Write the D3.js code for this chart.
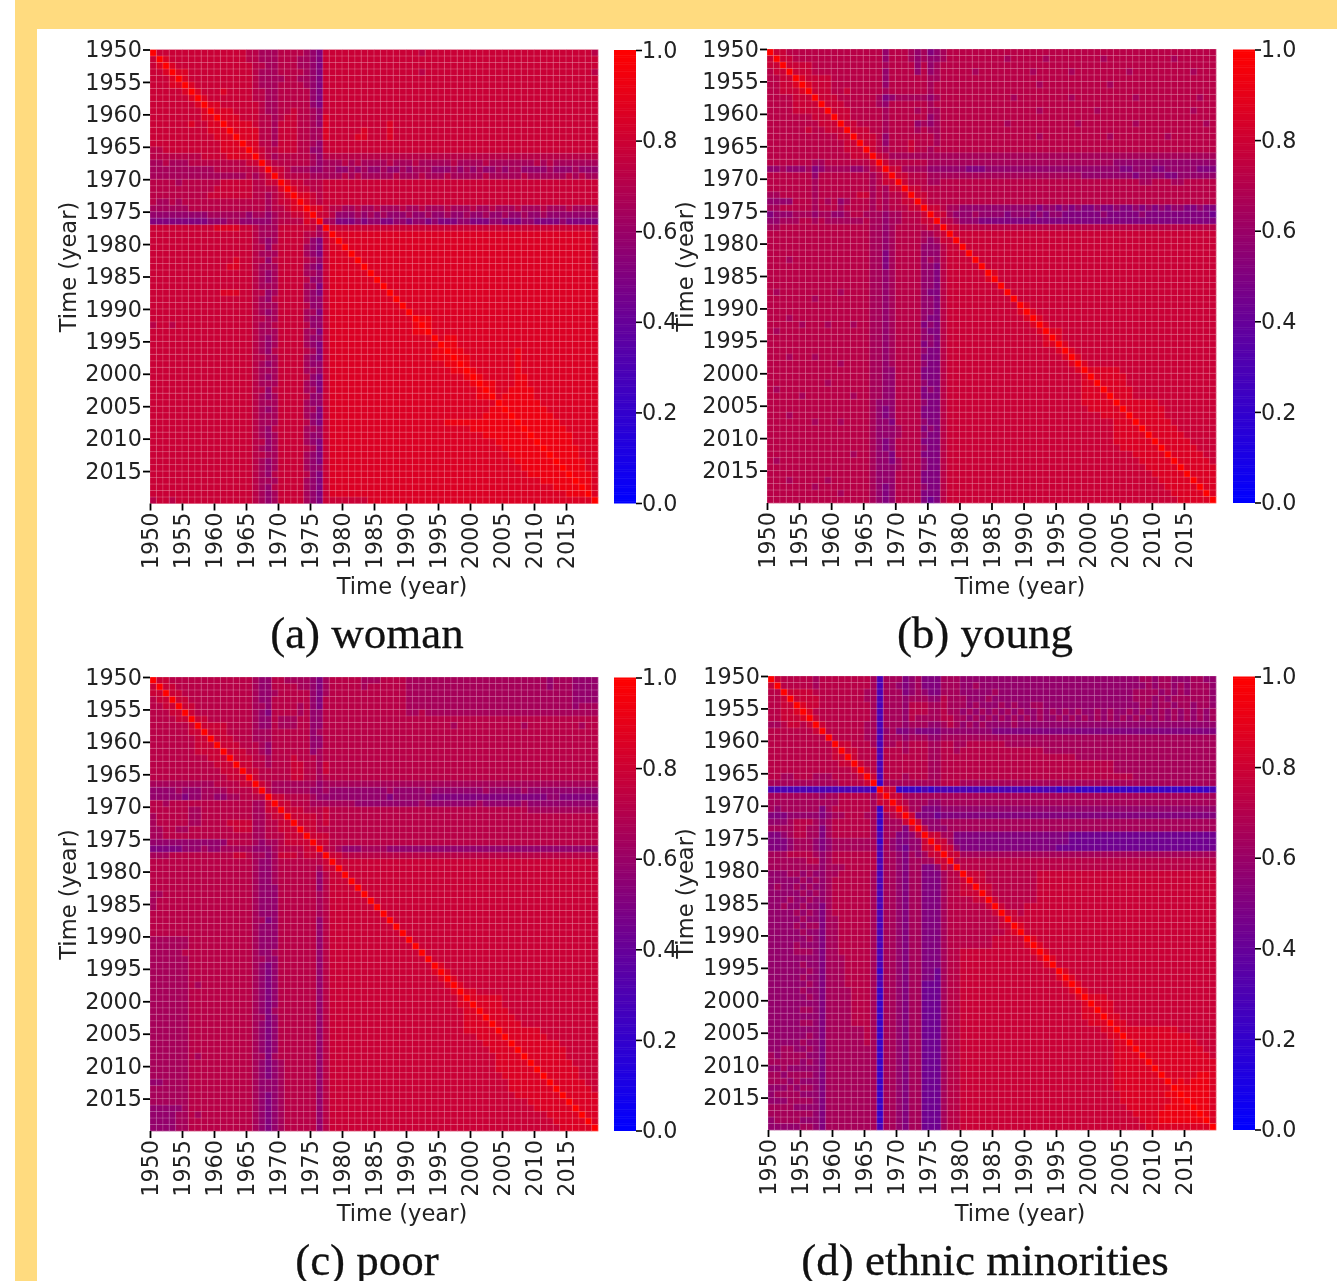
<!DOCTYPE html>
<html><head><meta charset="utf-8">
<script src="https://cdnjs.cloudflare.com/ajax/libs/d3/7.8.5/d3.min.js"></script>
<style>html,body{margin:0;padding:0;background:#fff;overflow:hidden}svg{display:block;filter:blur(.5px)}</style>
</head><body><svg id="c" width="1337" height="1281"></svg>
<script>
// Upper-triangle estimates, one string per row 1950..2018, groups on 5-year columns.
// Each character is a level from levelValues; the matrix is symmetric and its diagonal is diagonalValue.
const levelValues={a:.23,0:.30,1:.37,2:.44,3:.51,4:.58,5:.65,6:.72,7:.79,8:.86,9:.93};
const diagonalValue=1;
const tickYears=[1950,1955,1960,1965,1970,1975,1980,1985,1990,1995,2000,2005,2010,2015];
const barTicks=[0,.2,.4,.6,.8,1];
const captions=["(a) woman","(b) young","(c) poor","(d) ethnic minorities"];
const womanRows=[
"7777 77777 77777 66555 66665 43777 77777 77777 77677 77777 77777 77777 77777 77776",
"877 77777 77777 66555 66655 43777 77777 77777 77777 77777 77777 77777 77777 77777",
"87 77777 77777 76655 66655 43777 77777 77777 77777 77777 77777 77777 77777 77777",
"8 87777 77777 76555 66665 43777 77777 77777 77677 77777 77777 77777 77777 77776",
"87777 77777 76555 56655 43777 77777 77777 77777 77777 77777 77777 77777 77777",
"8777 77777 76555 66665 43777 77777 77777 77777 77777 77777 77777 77777 77777",
"877 78777 76655 66666 43777 77777 77777 77777 77777 77777 77777 77777 77777",
"87 77777 76655 66666 43777 77777 77777 77777 77777 77777 77777 77777 77777",
"8 87777 77655 66666 43777 77777 77777 77777 77777 77777 77777 77777 77777",
"88877 77655 66766 54777 77777 77777 77777 77777 77777 77777 77777 77777",
"8887 77665 67766 54877 77777 77777 77777 77777 77777 77777 77777 77777",
"888 87665 77766 54877 77777 77877 77777 77777 77777 77777 77777 77777",
"88 88665 77766 55877 77787 77877 77777 77777 77777 77777 77777 77777",
"8 88665 77766 55877 77887 77877 77777 77777 77777 77777 77777 77777",
"88665 77766 54777 77777 77777 77777 77777 77777 77777 77777 77777",
"8766 77766 44777 77777 77777 77777 77777 77777 77777 77777 77777",
"765 66666 54666 66666 66666 66666 66666 66666 66666 66666 66666",
"76 66666 54555 65655 55655 56555 55655 55655 55555 65655 55555",
"7 76555 44554 45454 45445 45554 44545 45445 45544 44544 45444",
"76666 55555 65655 55565 55655 56555 55655 55565 55555 65655",
"8776 66777 77777 77777 77777 77777 77777 77777 77777 77777",
"877 66777 77777 77777 77777 77777 77777 77777 77777 77777",
"88 76777 77777 77777 77777 77777 77777 77777 77777 77777",
"8 76777 77777 77777 77777 77777 77777 77777 77777 77777",
"8766 55655 65556 55655 56555 65565 55655 56555 65555",
"764 44545 45444 54454 45445 44544 54454 45444 44444",
"53 33434 43344 34434 33344 33344 33344 33334 33333",
"7 77777 77777 77777 77777 77777 77777 77777 77777",
"8 88888 88888 88888 88888 88888 88888 88888 88887",
"88888 88888 88888 88888 88888 88888 88888 88887",
"8888 88888 88888 88888 88888 88888 88888 88887",
"888 88888 88888 88888 88888 88888 88888 88887",
"88 88888 88888 88888 88888 88888 88888 88887",
"8 88888 88888 88888 88888 88888 88888 88887",
"88888 88888 88888 88888 88888 88888 88888",
"8888 88888 88888 88888 88888 88888 88888",
"888 88888 88888 88888 88888 88888 88888",
"88 88888 88888 88888 88888 88888 88888",
"8 88888 88888 88888 88888 88888 88888",
"88888 88888 88888 88888 88888 88888",
"8888 88888 88888 88888 88888 88888",
"998 88888 88888 88888 88888 88888",
"98 88888 88888 88888 88888 88888",
"8 88888 88888 88888 88888 88888",
"89988 88888 88888 88888 88888",
"9988 88888 88888 88888 88888",
"998 88888 88988 88888 88888",
"99 88888 88988 88888 88888",
"9 88888 88988 88888 88888",
"98888 88988 88888 88888",
"9888 88998 88888 88888",
"998 88998 88888 88888",
"98 89999 88888 88888",
"8 99999 88888 88888",
"99999 98888 88888",
"9999 99888 88888",
"999 99988 88888",
"99 99998 88888",
"9 99999 88888",
"99999 98888",
"9999 98888",
"999 99888",
"99 99888",
"9 99988",
"99988",
"9998",
"998",
"98",
"8"];
const youngRows=[
"7766 66666 66666 66646 66545 34566 66666 66666 66666 66666 66666 66666 66666 66666",
"776 66666 66666 66646 66545 44566 66666 66566 66656 66666 66566 66666 66656 66666",
"77 77666 66666 66656 66646 45666 66666 66666 66666 66666 66666 66666 66666 66666",
"7 77666 66666 66646 66646 45666 66566 66666 65666 66566 66666 65666 66666 65666",
"87777 66666 66646 66666 55666 66666 66666 66666 66666 66666 66666 66666 66666",
"8777 66666 66646 66666 56666 66666 66666 66566 66666 66656 66666 66666 66666",
"777 66766 66656 66666 56666 66666 66666 66666 66666 66666 66666 66666 66666",
"77 76666 66534 55555 45666 66666 66656 66666 66566 66666 66566 66666 66566",
"7 77666 66546 66666 56666 66666 66666 66666 66666 66666 66666 66666 66666",
"77766 66656 66656 55666 66666 66666 66566 66666 65666 66666 66666 65666",
"7766 66656 66666 45666 66666 66666 66666 66666 66666 66666 66666 66666",
"776 66656 66645 45666 66666 66566 66666 66656 66666 66566 66666 66656",
"77 76656 66656 55666 66666 66666 66666 66666 66666 66666 66666 66666",
"7 77646 66666 65666 66666 66666 66566 66666 66656 66666 66566 66666",
"77646 66766 65666 66666 66666 66666 66666 66666 66666 66666 66666",
"7656 66766 56666 66666 66666 66666 66666 66666 66666 66666 66666",
"765 55555 55555 55555 55555 55555 55555 55555 55555 55555 55555",
"76 66666 55555 55555 55555 55555 55555 55554 44444 44444 44444",
"7 75555 44444 43334 44444 44444 44444 44444 33444 33444 44333",
"77666 55555 55555 55555 55555 55554 44444 44344 44334 44444",
"7666 55666 66666 66666 66666 66666 66666 66655 66655 66666",
"776 66666 66666 66666 66666 66666 66666 66666 66666 66666",
"77 66666 66666 66666 66666 66666 66666 66666 66666 66666",
"7 66666 66666 66666 66666 66666 66666 66666 66666 66666",
"7655 44444 44444 44344 34343 34334 33434 34344 33433",
"754 44544 44344 43434 43333 33433 33343 33333 33332",
"65 44433 33333 33333 33333 33333 33333 33333 33333",
"7 66666 66666 66666 66666 66666 66666 66666 66666",
"7 77777 77777 77777 77777 77777 77777 77777 77777",
"77777 77777 77777 77777 77777 77777 77777 77777",
"7777 77777 77777 77777 77777 77777 77777 77777",
"777 77777 77777 77777 77777 77777 77777 77777",
"77 77777 77777 77777 77777 77777 77777 77777",
"7 77777 77777 77777 77777 77777 77777 77777",
"87777 77777 77777 77777 77777 77777 77777",
"7777 77777 77777 77777 77777 77777 77777",
"777 77777 77777 77777 77777 77777 77777",
"77 77777 77777 77777 77777 77777 77777",
"7 77777 77777 77777 77777 77777 77777",
"87777 77777 77777 77777 77777 77777",
"8777 77777 77777 77777 77777 77777",
"877 77777 77777 77777 77777 77777",
"87 77777 77777 77777 77777 77777",
"8 87777 77777 77777 77777 77777",
"87777 77777 77777 77777 77777",
"8777 77777 77777 77777 77777",
"877 77777 77777 77777 77777",
"87 77777 77777 77777 77777",
"8 77777 77777 77777 77777",
"88888 77777 77777 77777",
"8888 87777 77777 77777",
"888 87777 77777 77777",
"88 88777 77777 77777",
"8 88777 77777 77777",
"88888 87777 77777",
"8888 88777 77777",
"888 88777 77777",
"88 88877 77777",
"8 88887 77777",
"88888 77777",
"8888 87777",
"888 88777",
"88 88877",
"8 88887",
"88888",
"8888",
"888",
"88",
"8"];
const poorRows=[
"7766 66666 66666 65446 65555 43566 66655 56666 55555 55555 55555 55555 55455 54444",
"776 66666 66666 65446 66655 43566 66656 66666 55555 55555 55555 55555 55455 54444",
"77 66666 66666 65445 66666 43566 66666 66666 55555 55555 55555 55555 55555 54444",
"7 76666 66666 65446 66666 43666 66666 66666 55555 55555 55555 55555 55555 54444",
"77666 66666 65546 66656 43666 66666 66666 55555 55555 55555 55555 55555 54555",
"7666 66666 65436 66656 44666 66666 66666 55655 55555 55555 55555 55555 55555",
"776 66666 65446 55566 44666 66666 66666 66666 66666 66666 66666 66666 66666",
"77 77666 65446 55566 44666 66666 66666 66666 66566 66666 66656 66666 66566",
"7 77666 65556 66666 45666 66666 66666 66666 66666 66666 66666 66666 66666",
"77766 65556 66666 44666 66666 66666 66666 66666 66666 66666 66666 66666",
"7776 66546 66666 44666 66666 66666 66666 66666 66666 66666 66666 66666",
"777 66546 66666 45666 66666 66666 66666 66666 66666 66666 66666 66666",
"77 76656 66766 65666 66666 66666 66666 66666 66666 66666 66666 66666",
"7 76656 66776 65766 66666 66666 66666 66666 66666 66666 66666 66666",
"77666 66776 65766 66666 66666 66666 66666 66666 66666 66666 66666",
"7666 66776 65666 66666 66666 66666 66666 66666 66666 66666 66666",
"765 55555 54555 55555 55555 55555 55555 55555 55555 55555 55555",
"65 55555 44544 44444 44544 44454 44444 44544 44454 44444 44444",
"7 76666 54444 44444 44344 44443 33333 33333 33333 33443 33333",
"77666 55555 55444 44444 44544 44444 45444 44454 44444 44444",
"7776 66766 66666 66666 66666 66666 66666 66665 55555 55555",
"777 76766 66666 66666 66666 66666 66666 66666 66666 66666",
"77 76766 66666 66666 66666 66666 66666 66666 66666 66666",
"7 76666 66666 66666 66666 66666 66666 66666 66666 66666",
"7766 66666 66666 66666 66666 66666 66666 66666 66666",
"766 66666 66666 66666 66666 66666 66666 66666 66666",
"65 44455 55444 44444 44444 44444 44444 44444 44444",
"7 66666 66666 66666 66666 66666 66666 66666 66666",
"7 77777 77777 77777 77777 77777 77777 77777 77777",
"77777 77777 77777 77777 77777 77777 77777 77777",
"7777 77777 77777 77777 77777 77777 77777 77777",
"777 77777 77777 77777 77777 77777 77777 77777",
"77 77777 77777 77777 77777 77777 77777 77777",
"7 77777 77777 77777 77777 77777 77777 77777",
"77777 77777 77777 77777 77777 77777 77777",
"7777 77777 77777 77777 77777 77777 77777",
"777 77777 77777 77777 77777 77777 77777",
"77 77777 77777 77777 77777 77777 77777",
"7 77777 77777 77777 77777 77777 77777",
"77777 77777 77777 77777 77777 77777",
"7777 77777 77777 77777 77777 77777",
"777 77777 77777 77777 77777 77777",
"77 77777 77777 77777 77777 77777",
"7 77777 77777 77777 77777 77777",
"87777 77777 77777 77777 77777",
"8777 77777 77777 77777 77777",
"877 77777 77777 77777 77777",
"87 77777 77777 77777 77777",
"8 87777 77777 77777 77777",
"88888 77777 77777 77777",
"8888 77777 77777 77777",
"888 87777 77777 77777",
"88 88777 77777 77777",
"8 88877 77777 77777",
"88888 87777 77777",
"8888 88777 77777",
"888 88887 77777",
"88 88888 77777",
"8 88888 77777",
"88888 87777",
"8888 88777",
"888 88777",
"88 88877",
"8 88887",
"88888",
"8888",
"888",
"88",
"8"];
const minoritiesRows=[
"7666 66566 66666 65055 53453 33555 44444 44444 44444 44444 44444 44455 45544 45544",
"666 66566 66666 65055 43453 33555 44544 44444 44444 44444 44444 44445 45545 45554",
"77 77666 66666 55055 53454 33555 44444 54444 44444 44444 44444 44555 54545 45554",
"7 77766 66666 55055 54555 44655 54445 44444 44444 44444 44444 44555 45455 55554",
"87766 66666 65055 54666 55655 54544 45454 45544 44444 44444 44455 45545 54554",
"8666 66666 65055 54666 55655 45454 54545 44545 45454 45454 45454 45454 54545",
"766 66666 65055 54655 55665 54545 45454 54544 54545 45454 54545 45454 54545",
"76 66666 55055 54555 44565 45454 44454 44444 44444 44444 44444 44444 44444",
"6 66666 55045 33433 33444 44444 33333 33333 33333 33333 33333 33333 33333",
"66666 55055 54555 44555 55555 55555 55555 55555 55555 55555 55555 55555",
"7766 65055 65666 55665 56666 66555 55555 55555 55555 55555 55555 55555",
"776 66066 65666 55665 66666 66666 66655 55555 55555 55555 55555 55555",
"76 66066 66666 55666 66666 66666 66666 66655 55555 55555 55555 55555",
"7 66066 66666 55666 66666 66666 66666 66666 66665 55555 55555 55555",
"76066 66666 55666 66666 66666 66666 66666 66665 55555 55555 55555",
"7066 65666 55666 66666 66666 66666 66666 66666 66555 55555 55555",
"a55 55555 55666 55555 55555 55555 55555 55555 55555 55555 55555",
"77 aaaa0 a0000 00000 00000 00000 a00aa aaaaa aaaaa aaaaa aaaa0",
"7 75555 55555 55555 55555 55555 55555 55555 55555 55555 55555",
"76555 44555 55555 55555 55555 55555 55555 55555 55555 55555",
"7553 33444 44444 44444 44444 44444 44444 44444 44444 44444",
"733 32333 33333 33333 33333 33333 33333 33333 33333 33333",
"74 44555 55555 55555 55555 55555 55555 55555 55555 55555",
"6 44455 55555 55555 55555 55555 55555 55555 55555 55555",
"7553 33333 33333 33333 33222 22222 22222 22222 22222",
"753 33333 33333 33333 33222 22222 22222 22222 22222",
"74 33333 33333 33333 22222 22222 22222 22222 22222",
"7 55555 55555 55555 55555 55555 55555 55555 55555",
"6 66666 66666 66666 66666 66666 66666 66666 66666",
"66666 66666 66666 66666 66666 66666 66666 66666",
"7776 66666 66777 77777 77777 77777 77777 77777",
"776 66666 66777 77777 77777 77777 77777 77777",
"77 66666 66777 77777 77777 77777 77777 77777",
"7 66666 66777 77777 77777 77777 77777 77777",
"76666 66777 77777 77777 77777 77777 77777",
"7666 77777 77777 77777 77777 77777 77777",
"776 77777 77777 77777 77777 77777 77777",
"77 77777 77777 77777 77777 77777 77777",
"8 77777 77777 77777 77777 77777 77777",
"77777 77777 77777 77777 77777 77777",
"8777 77777 77777 77777 77777 77777",
"877 77777 77777 77777 77777 77777",
"87 77777 77777 77777 77777 77777",
"8 77777 77777 77777 77777 77777",
"77777 77777 77777 77777 77777",
"8777 77777 77777 77777 77777",
"877 77777 77777 77777 77777",
"87 77777 77777 77777 77777",
"8 77777 77777 77777 77777",
"88877 77777 77777 77777",
"8887 77777 77777 77777",
"887 77777 77777 77777",
"88 77777 77777 77777",
"8 87777 77777 77777",
"88888 88887 77777",
"8888 88888 87777",
"888 88888 88777",
"88 88888 88877",
"8 88888 88887",
"88888 88888",
"8888 88888",
"888 88998",
"89 89998",
"9 99998",
"99998",
"9998",
"998",
"98",
"8"];

// Panel placement
const layout=[
 {rows:womanRows, x0:150,x1:598,y0:49.5,y1:503.5,bar:614,labelX:68, xLabelX:402, xLabelY:594, capX:367, capY:648},
 {rows:youngRows, x0:767,x1:1216,y0:49,y1:503,bar:1233,labelX:685,xLabelX:1020,xLabelY:594, capX:985, capY:648},
 {rows:poorRows, x0:150,x1:598,y0:677,y1:1131,bar:614,labelX:68, xLabelX:402, xLabelY:1221, capX:367, capY:1275},
 {rows:minoritiesRows, x0:768,x1:1216,y0:676,y1:1130,bar:1233,labelX:685,xLabelX:1020,xLabelY:1221, capX:985, capY:1275}
];
const svg=d3.select("#c");
svg.append("rect").attr("x",15).attr("y",0).attr("width",1322).attr("height",29).attr("fill","#FFDB7F");
svg.append("rect").attr("x",15).attr("y",0).attr("width",22).attr("height",1281).attr("fill","#FFDB7F");
const color=d3.scaleLinear().domain([0,1]).range(["#0000ff","#ff0000"]).interpolate(d3.interpolateRgb);
const tickFont='22.3px "DejaVu Sans"', axisFont='22.6px "DejaVu Sans"';
const N=70, startYear=1950;
function decode(rows){
  const m=d3.range(N).map(()=>new Array(N).fill(diagonalValue));
  rows.forEach((s,r)=>{
    let t=s.replace(/ /g,"");const n=N-1-r;
    if(t.length>n)t=t.slice(-n);
    t=t.padStart(n,t[0]);
    for(let i=0;i<n;i++){const v=levelValues[t[i]];m[r][r+1+i]=v;m[r+1+i][r]=v;}
  });
  return m;
}
layout.forEach((p,k)=>{
  const g=svg.append("g");
  const x=d3.scaleLinear().domain([startYear,startYear+N]).range([p.x0,p.x1]);
  const y=d3.scaleLinear().domain([startYear,startYear+N]).range([p.y0,p.y1]);
  const cells=[];decode(p.rows).forEach((row,r)=>row.forEach((v,c)=>cells.push({r,c,v})));
  g.append("g").selectAll("rect").data(cells).join("rect")
    .attr("x",d=>x(startYear+d.c)).attr("y",d=>y(startYear+d.r))
    .attr("width",x(startYear+1)-x(startYear)+.3).attr("height",y(startYear+1)-y(startYear)+.3)
    .attr("fill",d=>color(d.v));
  const gl=g.append("g").attr("stroke","#fff").attr("stroke-width",.5).attr("stroke-opacity",.42);
  gl.selectAll("line.v").data(d3.range(startYear,startYear+N+1)).join("line").attr("class","v")
    .attr("x1",d=>x(d)).attr("x2",d=>x(d)).attr("y1",p.y0).attr("y2",p.y1);
  gl.selectAll("line.h").data(d3.range(startYear,startYear+N+1)).join("line").attr("class","h")
    .attr("y1",d=>y(d)).attr("y2",d=>y(d)).attr("x1",p.x0).attr("x2",p.x1);
  const ya=g.append("g").attr("transform",`translate(${p.x0},0)`)
    .call(d3.axisLeft(y).tickValues(tickYears).tickFormat(d3.format("d")).tickSize(7).tickPadding(1));
  const xa=g.append("g").attr("transform",`translate(0,${p.y1})`)
    .call(d3.axisBottom(x).tickValues(tickYears).tickFormat(d3.format("d")).tickSize(7).tickPadding(1));
  xa.selectAll("text").attr("transform","rotate(-90)").attr("text-anchor","end").attr("dy","0.35em").attr("x",-9).attr("y",0);
  [ya,xa].forEach(a=>{a.select(".domain").remove();a.selectAll("line").attr("stroke","#000").attr("stroke-width",1.8);
    a.selectAll("text").style("font",tickFont).attr("fill","#222");});
  const by=d3.scaleLinear().domain([0,1]).range([p.y1-.5,p.y0+.5]);
  g.append("g").selectAll("rect").data(d3.range(0,256)).join("rect")
    .attr("x",p.bar).attr("width",22)
    .attr("y",d=>by((d+1)/256)).attr("height",(by(0)-by(1))/256+.5)
    .attr("fill",d=>color(d/255));
  const ba=g.append("g").attr("transform",`translate(${p.bar+22},0)`)
    .call(d3.axisRight(by).tickValues(barTicks).tickFormat(d3.format(".1f")).tickSize(6).tickPadding(0));
  ba.select(".domain").remove();ba.selectAll("line").attr("stroke","#000").attr("stroke-width",1.6);
  ba.selectAll("text").style("font",tickFont).attr("fill","#222");
  g.append("text").attr("x",p.xLabelX).attr("y",p.xLabelY).attr("text-anchor","middle").style("font",axisFont).attr("fill","#222").text("Time (year)");
  g.append("text").attr("transform",`translate(${p.labelX+8},${(p.y0+p.y1)/2-9.5}) rotate(-90)`).attr("text-anchor","middle").style("font",axisFont).attr("fill","#222").text("Time (year)");
  g.append("text").attr("x",p.capX).attr("y",p.capY).attr("text-anchor","middle").style("font",'45px "Liberation Serif"').attr("fill","#111").attr("stroke","#111").attr("stroke-width",.3).text(captions[k]);
});
</script></body></html>
